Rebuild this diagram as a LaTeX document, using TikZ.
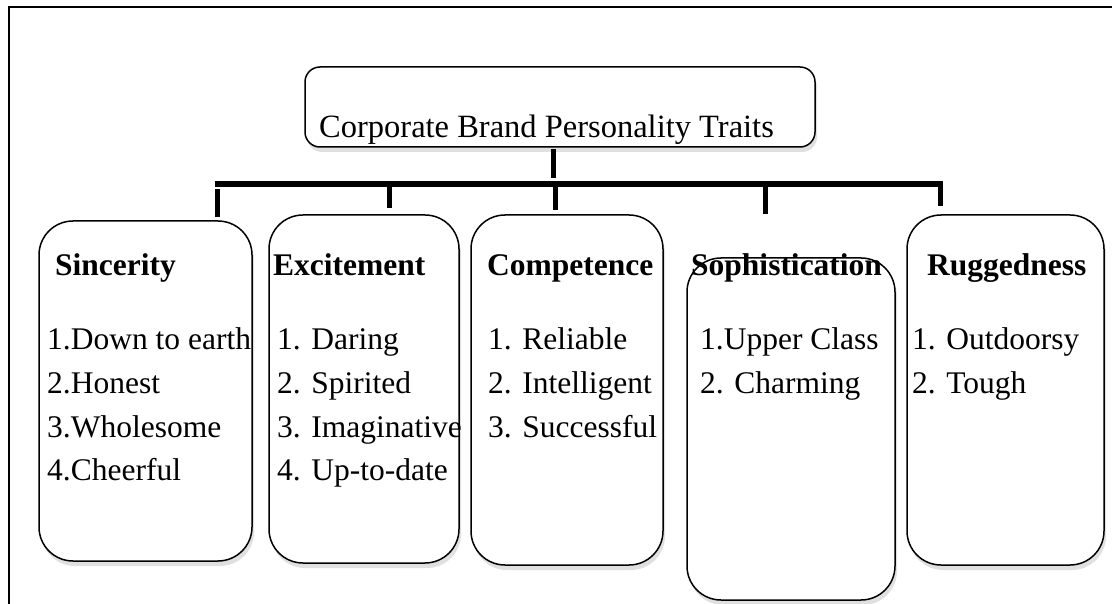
\documentclass[tikz,border=0pt]{standalone}
\usepackage{fontspec}
\setmainfont{Liberation Serif}
\usetikzlibrary{shadows}
\begin{document}
\begin{tikzpicture}[x=1pt,y=-1pt,
  shade/.style={drop shadow={shadow xshift=2pt,shadow yshift=-5pt,opacity=0.12,fill=black}},
  box/.style={draw,line width=1.5pt,rounded corners=34pt,inner sep=0pt,outer sep=0pt,fill=white,shade},
  topbox/.style={box,rounded corners=15pt},
  lbl/.style={anchor=base west,inner sep=0pt,font=\fontsize{31.5}{38}\selectfont},
  toplbl/.style={anchor=base west,inner sep=0pt,font=\fontsize{32.5}{39}\selectfont},
  ttl/.style={anchor=base west,inner sep=0pt,font=\fontsize{31.5}{38}\selectfont\bfseries},
  conn/.style={line width=5pt},
  barline/.style={line width=6pt},
  frame/.style={line width=1.6pt}
]
\useasboundingbox (0,0) rectangle (1112,604);
% outer frame
\coordinate (fA) at (9,604);
\coordinate (fB) at (9,7);
\coordinate (fC) at (1112,7);
\draw[frame] (fA) -- (fB) -- (fC);

% boxes
\node[topbox,minimum width=510pt,minimum height=80pt] (top) at (560,107) {};
\node[box,minimum width=213pt,minimum height=340pt] (sinc) at (145.5,391) {};
\node[box,minimum width=190pt,minimum height=348pt] (exc) at (364,389) {};
\node[box,minimum width=192pt,minimum height=350pt] (comp) at (567,390) {};
\node[box,minimum width=208pt,minimum height=342pt] (soph) at (791,429) {};
\node[box,minimum width=197pt,minimum height=350pt] (rug) at (1005.5,390) {};

% connectors
\coordinate (stemT) at (553,149);
\coordinate (stemB) at (553,178);
\coordinate (barL) at (215,184);
\coordinate (barR) at (943,184);
\coordinate (dS1) at (217,189); \coordinate (dS2) at (217,217);
\coordinate (dE1) at (389,182); \coordinate (dE2) at (389,208);
\coordinate (dC1) at (555,187); \coordinate (dC2) at (555,210);
\coordinate (dP1) at (765,187); \coordinate (dP2) at (765,214);
\coordinate (dR1) at (940,181); \coordinate (dR2) at (940,206);
\draw[conn] (stemT) -- (stemB);
\draw[barline] (barL) -- (barR);
\draw[conn] (dS1) -- (dS2);
\draw[conn] (dE1) -- (dE2);
\draw[conn] (dC1) -- (dC2);
\draw[conn] (dP1) -- (dP2);
\draw[conn] (dR1) -- (dR2);

% texts
\node[toplbl] (tTop) at (319,138) {Corporate Brand Personality Traits};

\node[ttl] (tS) at (55,276) {Sincerity};
\node[lbl] (s1) at (47,349) {1.Down to earth};
\node[lbl] (s2) at (47,393) {2.Honest};
\node[lbl] (s3) at (47,437) {3.Wholesome};
\node[lbl] (s4) at (47,480) {4.Cheerful};

\node[ttl] (tE) at (273,276) {Excitement};
\node[lbl] (e1) at (277,349) {1. Daring};
\node[lbl] (e2) at (277,393) {2. Spirited};
\node[lbl] (e3) at (277,437) {3. Imaginative};
\node[lbl] (e4) at (277,480) {4. Up-to-date};

\node[ttl] (tC) at (487,276) {Competence};
\node[lbl] (c1) at (488,349) {1. Reliable};
\node[lbl] (c2) at (488,393) {2. Intelligent};
\node[lbl] (c3) at (488,437) {3. Successful};

\node[ttl] (tP) at (691,276) {Sophistication};
\node[lbl] (p1) at (700,349) {1.Upper Class};
\node[lbl] (p2) at (700,393) {2. Charming};

\node[ttl] (tR) at (927,276) {Ruggedness};
\node[lbl] (r1) at (912,349) {1. Outdoorsy};
\node[lbl] (r2) at (912,393) {2. Tough};
\end{tikzpicture}
\end{document}
